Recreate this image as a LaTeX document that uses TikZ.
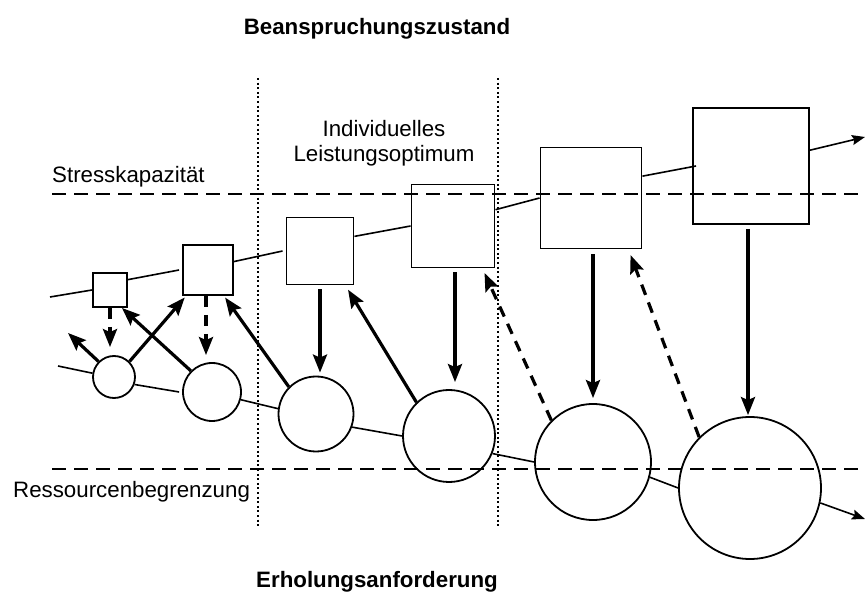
\documentclass[tikz,border=0pt]{standalone}
\usepackage{fontspec}
\setmainfont{Liberation Sans}
\usetikzlibrary{arrows.meta,calc}
\begin{document}
\begin{tikzpicture}[x=1pt,y=-1pt,
  sq/.style={draw,line width=1.9pt,inner sep=0pt,minimum size=#1},
  circ/.style={draw,circle,line width=1.8pt,inner sep=0pt,minimum size=#1},
  thin/.style={line width=1.6pt},
  thinarr/.style={line width=1.6pt,-{Stealth[length=13pt,width=10pt,inset=2pt]}},
  thickarr/.style={line width=3.2pt,-{Stealth[length=18pt,width=14pt,inset=3pt]}},
  dasharr/.style={thickarr,dash pattern=on 11pt off 8pt},
  limit/.style={line width=2pt,dash pattern=on 14pt off 8pt},
  divider/.style={line width=2.2pt,dash pattern=on 2pt off 2.6pt},
  lbl/.style={inner sep=0pt,font=\fontsize{22.3pt}{25pt}\selectfont},
  blbl/.style={lbl,font=\fontsize{22.3pt}{25pt}\selectfont\bfseries}]
\useasboundingbox (0,0) rectangle (865,593);
% texts
\node[blbl,anchor=base] (t1) at (377,35) {Beanspruchungszustand};
\node[blbl,anchor=base] (t2) at (377,587) {Erholungsanforderung};
\node[lbl,anchor=base west] (t3) at (52,183) {Stresskapazität};
\node[lbl,anchor=base west] (t4) at (13,497) {Ressourcenbegrenzung};
\node[lbl,anchor=base] (t5) at (384,137) {Individuelles};
\node[lbl,anchor=base] (t6) at (384,162) {Leistungsoptimum};
% limit lines
\coordinate (l1a) at (52,194); \coordinate (l1b) at (865,194);
\coordinate (l2a) at (52,469); \coordinate (l2b) at (865,469);
\draw[limit] (l1a) -- (l1b);
\draw[limit] (l2a) -- (l2b);
% dotted dividers
\coordinate (d1a) at (258,78); \coordinate (d1b) at (258,527);
\coordinate (d2a) at (498,78); \coordinate (d2b) at (498,528);
\draw[divider] (d1a) -- (d1b);
\draw[divider] (d2a) -- (d2b);
% squares
\node[sq=34pt] (s1) at (110,290) {};
\node[sq=50pt] (s2) at (208,270) {};
\node[sq=67pt] (s3) at (320,251) {};
\node[sq=83pt] (s4) at (453,226) {};
\node[sq=101pt] (s5) at (591,198) {};
\node[sq=116pt] (s6) at (751,166) {};
% circles
\node[circ=42pt] (c1) at (114,377) {};
\node[circ=58pt] (c2) at (212,392) {};
\node[circ=75pt] (c3) at (316,414) {};
\node[circ=92pt] (c4) at (449,436) {};
\node[circ=116pt] (c5) at (593,462) {};
\node[circ=142pt] (c6) at (750,488) {};
% square chain
\coordinate (p0) at (50,297);
\coordinate (pe) at (865,137);
\draw[thin] (p0) -- (s1.west);
\draw[thin] (s1.30) -- ([xshift=-3pt]s2.west);
\draw[thin] (s2.18) -- ([xshift=-3pt]s3.west);
\draw[thin] (s3.23) -- (s4.west);
\draw[thin] (s4.21) -- (s5.west);
\draw[thin] (s5.23) -- ([xshift=4pt]s6.west);
\draw[thinarr] (s6.15) -- (pe);
% circle chain
\coordinate (q0) at (58,366);
\coordinate (qe) at (865,519);
\draw[thin] (q0) -- (c1.170);
\draw[thin] (c1.-20) -- ([xshift=-3pt]c2.west);
\draw[thin] (c2.-15) -- (c3.172);
\draw[thin] (c3.-20) -- (c4.west);
\draw[thin] (c4.-22) -- (c5.west);
\draw[thin] (c5.-15) -- (c6.west);
\draw[thinarr] (c6.-12) -- (qe);
% thick arrows
\coordinate (f1) at (68,333);
\draw[dasharr,shorten >=8pt] (s1.south) -- (s1.south |- c1.north);
\draw[thickarr] (c1.135) -- (f1);
\draw[thickarr,shorten >=2pt] (c1.45) -- ([xshift=4pt]s2.south west);
\draw[thickarr,shorten >=0pt] (c2.135) -- ([xshift=-6pt]s1.south east);
\draw[dasharr,shorten >=7pt] ([xshift=-2pt]s2.south) -- ([xshift=-2pt]s2.south |- c2.north);
\draw[thickarr,shorten >=2pt] (c3.135) -- ([xshift=-10pt]s2.south east);
\draw[thickarr,shorten <=4pt,shorten >=3pt] (s3.south) -- (s3.south |- c3.north);
\draw[thickarr,shorten >=5pt] (c4.134) -- ([xshift=-9pt]s3.south east);
\draw[thickarr,shorten <=4pt,shorten >=7pt] ([xshift=2pt]s4.south) -- ([xshift=2pt]s4.south |- c4.north);
\draw[dasharr,shorten >=5pt] (c5.135) -- ([xshift=-13pt]s4.south east);
\draw[thickarr,shorten <=5pt,shorten >=5pt] ([xshift=2pt]s5.south) -- ([xshift=2pt]s5.south |- c5.north);
\draw[dasharr,shorten >=6pt] (c6.135) -- ([xshift=-14pt]s5.south east);
\draw[thickarr,shorten <=4pt,shorten >=1pt] ([xshift=-3pt]s6.south) -- ([xshift=-3pt]s6.south |- c6.north);
\end{tikzpicture}
\end{document}
